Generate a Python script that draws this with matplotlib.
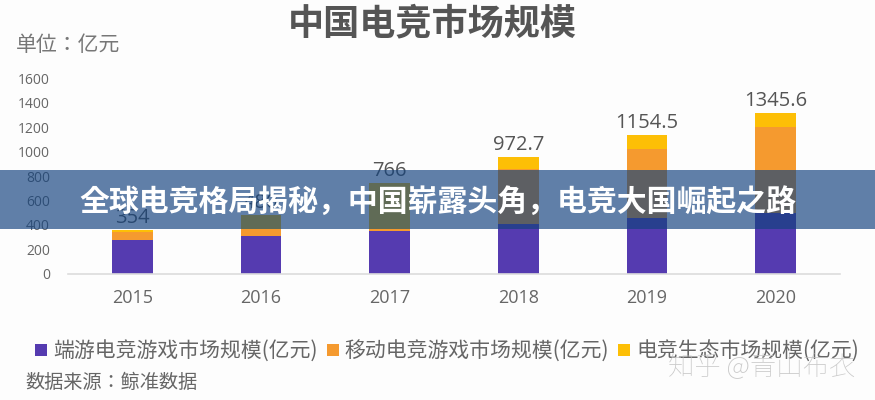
import matplotlib
matplotlib.use("Agg")
import matplotlib.pyplot as plt
from matplotlib.patches import Rectangle

CJK = "Noto Sans CJK JP"
W, H = 875, 400

years = ["2015", "2016", "2017", "2018", "2019", "2020"]
pc_game = [275, 310, 351, 406, 458, 496]
mobile_game = [65, 57, 14, 451, 563, 708]
ecosystem = [14, 113, 380, 101, 115, 115]
total_labels = ["354", "480", "766", "972.7", "1154.5", "1345.6"]
y_ticks = [0, 200, 400, 600, 800, 1000, 1200, 1400, 1600]
series_names = ["端游电竞游戏市场规模(亿元)", "移动电竞游戏市场规模(亿元)", "电竞生态市场规模(亿元)"]
colors = ["#553bb0", "#f59a2f", "#fdbf06"]
title = "中国电竞市场规模"
unit = "单位：亿元"
source = "数据来源：鲸准数据"
banner = "全球电竞格局揭秘，中国崭露头角，电竞大国崛起之路"
watermark = "知乎 @青山布衣"

fig = plt.figure(figsize=(W / 100, H / 100), dpi=100, facecolor="#fdfdfd")
ax = fig.add_axes([68 / W, 1 - 273.5 / H, (840 - 68) / W, 195 / H])
ax.set_facecolor("none")
x = list(range(len(years)))
bottom = [0] * len(years)
for vals, c in zip([pc_game, mobile_game, ecosystem], colors):
    ax.bar(x, vals, width=0.318, bottom=bottom, color=c, linewidth=0, zorder=2)
    bottom = [b + v for b, v in zip(bottom, vals)]
for xi, top, lab in zip(x, bottom, total_labels):
    ax.annotate(lab, (xi, top), xytext=(0, 1.5), textcoords="offset points", ha="center", va="bottom",
                fontsize=14.5, color="#555555", family="Open Sans", zorder=3)
ax.set_xlim(-0.5, 5.5)
ax.set_ylim(0, 1600)
ax.set_xticks(x, years)
ax.set_yticks(y_ticks)
ax.tick_params(axis="both", length=0)
ax.tick_params(axis="x", pad=11, labelsize=13, labelcolor="#666666")
ax.tick_params(axis="y", pad=13, labelsize=10, labelcolor="#666666")
for t in ax.get_xticklabels() + ax.get_yticklabels():
    t.set_family("Open Sans")
for s in ["top", "right", "left"]:
    ax.spines[s].set_visible(False)
ax.spines["bottom"].set_color("#dcdcdc")
ax.spines["bottom"].set_linewidth(1.2)

def px(xp, yp):
    return xp / W, 1 - yp / H

fig.text(*px(432.5, 24), title, fontsize=26, fontweight="bold", color="#555555", family=CJK, ha="center", va="center")
fig.text(*px(16, 45), unit, fontsize=15, color="#777777", family=CJK, ha="left", va="center")
fig.text(*px(25, 383), source, fontsize=13.8, color="#666666", family=CJK, ha="left", va="center")

legend_x = [35, 327, 618]
text_x = [53, 344, 636]
for lx, tx, name, c in zip(legend_x, text_x, series_names, colors):
    fig.patches.append(Rectangle(px(lx, 356), 12 / W, 12 / H, transform=fig.transFigure, facecolor=c, linewidth=0))
    fig.text(*px(tx, 352), name, fontsize=15, color="#666666", family=CJK, ha="left", va="center")

fig.text(*px(762, 368), watermark, fontsize=19, color="#c0c0c0", alpha=0.85, family=CJK, fontweight="light",
         ha="center", va="center", zorder=5)

fig.patches.append(Rectangle(px(0, 229), 1, 59 / H, transform=fig.transFigure, facecolor=(19 / 255, 66 / 255, 126 / 255),
                             alpha=0.67, linewidth=0, zorder=6))
fig.text(*px(438, 202), banner, fontsize=21.5, fontweight="bold", color="white", family=CJK, ha="center", va="center", zorder=7)

fig.savefig("out.png", dpi=100, facecolor=fig.get_facecolor())
